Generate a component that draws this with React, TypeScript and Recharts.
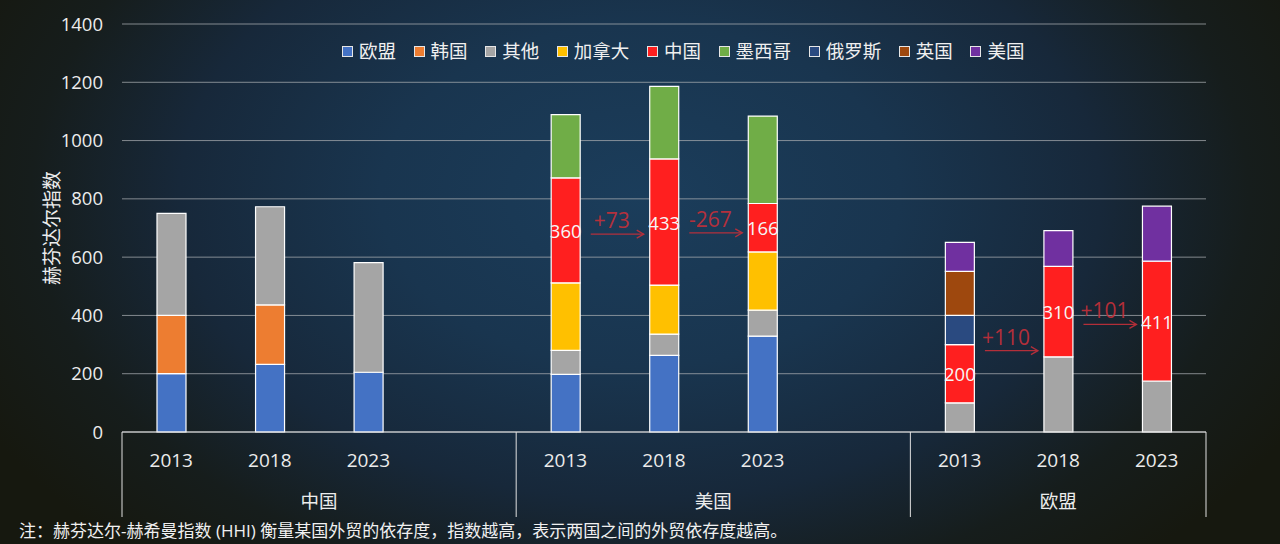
import React from 'react';
import { BarChart, Bar, XAxis, YAxis, CartesianGrid, Legend, LabelList } from 'recharts';

// ---------- data ----------
const slotIds = ['CN-2013', 'CN-2018', 'CN-2023', 'CN-gap', 'US-2013', 'US-2018', 'US-2023', 'US-gap', 'EU-2013', 'EU-2018', 'EU-2023'];
const slotYears = ['2013', '2018', '2023', '', '2013', '2018', '2023', '', '2013', '2018', '2023'];
const groupNames = ['中国', '美国', '欧盟'];
const groupSlotCounts = [4, 4, 3];

const seriesNames = ['欧盟', '韩国', '其他', '加拿大', '中国', '墨西哥', '俄罗斯', '英国', '美国'];
const seriesColors = ['#4472C4', '#ED7D31', '#A5A5A5', '#FFC000', '#FF1F1F', '#70AD47', '#2A4A80', '#9E480E', '#7030A0'];

const vEU = [200, 232, 205, null, 198, 263, 329, null, null, null, null];
const vKR = [200, 204, null, null, null, null, null, null, null, null, null];
const vOther = [350, 337, 376, null, 82, 73, 89, null, 100, 258, 175];
const vCA = [null, null, null, null, 232, 168, 200, null, null, null, null];
const vCN = [null, null, null, null, 360, 433, 166, null, 200, 310, 411];
const vMX = [null, null, null, null, 217, 249, 300, null, null, null, null];
const vRU = [null, null, null, null, null, null, null, null, 100, null, null];
const vUK = [null, null, null, null, null, null, null, null, 151, null, null];
const vUS = [null, null, null, null, null, null, null, null, 100, 123, 189];

const seriesValues = [vEU, vKR, vOther, vCA, vCN, vMX, vRU, vUK, vUS];
const yTicks = [0, 200, 400, 600, 800, 1000, 1200, 1400];

const data = slotIds.map((id, i) => {
  const row: Record<string, any> = { id, year: slotYears[i] };
  seriesNames.forEach((n, s) => {
    row[n] = seriesValues[s][i];
  });
  return row;
});

// indices of slots that carry a 中国 segment (label lists may be compacted)
const cnSlots = vCN.map((v, i) => (v == null ? -1 : i)).filter((i) => i >= 0);

// ---------- layout ----------
const W = 1280;
const H = 544;
const MARGIN = { top: 24, right: 74, bottom: 22, left: 40 };
const Y_AXIS_W = 82;
const X_AXIS_H = 90;
const SLOT_W = (W - MARGIN.left - MARGIN.right - Y_AXIS_W) / slotIds.length;
const FONT = '"Open Sans", "Noto Sans CJK SC", sans-serif';
const TEXT = '#ececec';
const RED_NOTE = '#C4303A';

const groupStart = (g: number) => groupSlotCounts.slice(0, g).reduce((a, b) => a + b, 0);

const baseBelowCN = (i: number) => (vEU[i] ?? 0) + (vKR[i] ?? 0) + (vOther[i] ?? 0) + (vCA[i] ?? 0);

const XTick = (props: any) => {
  const { x, y } = props;
  const i: number = props.index ?? props.payload?.index ?? 0;
  const els: React.ReactNode[] = [];
  els.push(
    <text key="yr" x={x} y={y + 28} textAnchor="middle" dominantBaseline="central" fill={TEXT} fontSize={19} fontFamily={FONT}>
      {slotYears[i]}
    </text>
  );
  groupNames.forEach((g, gi) => {
    const start = groupStart(gi);
    const end = start + groupSlotCounts[gi] - 1;
    if (i === start) {
      els.push(<line key={'l' + gi} x1={x - SLOT_W / 2} x2={x - SLOT_W / 2} y1={y} y2={y + 85} stroke="#e0e0e0" strokeWidth={1} />);
      els.push(
        <text key={'g' + gi} x={x + ((groupSlotCounts[gi] - 1) * SLOT_W) / 2} y={y + 68} textAnchor="middle" dominantBaseline="central" fill={TEXT} fontSize={18.5} fontFamily={FONT}>
          {g}
        </text>
      );
    }
    if (i === end && gi === groupNames.length - 1) {
      els.push(<line key={'r' + gi} x1={x + SLOT_W / 2} x2={x + SLOT_W / 2} y1={y} y2={y + 85} stroke="#e0e0e0" strokeWidth={1} />);
    }
  });
  return <g>{els}</g>;
};

const ChinaLabel = (props: any) => {
  const { value } = props;
  if (value == null) return null;
  let di: number = props.index ?? 0;
  if (vCN[di] !== value) di = cnSlots[props.index] ?? di;
  const vb = props.viewBox ?? props;
  const x = vb.x;
  const width = vb.width;
  const y = Math.min(vb.y, vb.y + vb.height);
  const height = Math.abs(vb.height);
  const cx = x + width / 2;
  const cy = y + height / 2;
  let delta: React.ReactNode = null;
  const prev = di > 0 ? vCN[di - 1] : null;
  if (prev != null && height > 0) {
    const ppu = height / value;
    const yZero = y + height + baseBelowCN(di) * ppu;
    const prevCy = yZero - (baseBelowCN(di - 1) + prev / 2) * ppu;
    const mid = (prevCy + cy) / 2;
    const d = value - prev;
    const ay = mid + 8;
    const x1 = x - 59;
    const x2 = x - 6;
    delta = (
      <g opacity={0.9}>
        <text x={x - 38} y={mid - 6} textAnchor="middle" dominantBaseline="central" fill={RED_NOTE} fontSize={21} fontFamily={FONT}>
          {d > 0 ? `+${d}` : `${d}`}
        </text>
        <line x1={x1} y1={ay} x2={x2} y2={ay} stroke={RED_NOTE} strokeWidth={1.3} />
        <path d={`M${x2 - 7},${ay - 4} L${x2},${ay} L${x2 - 7},${ay + 4}`} fill="none" stroke={RED_NOTE} strokeWidth={1.3} />
      </g>
    );
  }
  return (
    <g>
      {delta}
      <text x={cx} y={cy} textAnchor="middle" dominantBaseline="central" fill="#f6f6f6" fontSize={18.5} fontFamily={FONT}>
        {value}
      </text>
    </g>
  );
};

const LegendContent = () => (
  <div style={{ display: 'flex', alignItems: 'center', whiteSpace: 'nowrap', fontFamily: FONT, fontSize: 18.5, lineHeight: '26px', color: '#f0f0f0' }}>
    {seriesNames.map((n, i) => (
      <div key={n} style={{ display: 'flex', alignItems: 'center', marginRight: 17.6 }}>
        <span style={{ display: 'inline-block', width: 11, height: 11, boxSizing: 'border-box', background: seriesColors[i], border: '1px solid #e6e6e6', marginRight: 6 }} />
        <span>{n}</span>
      </div>
    ))}
  </div>
);

const YLabel = (p: any) => {
  const vb = p.viewBox ?? { x: MARGIN.left, y: MARGIN.top, width: Y_AXIS_W, height: H - MARGIN.top - MARGIN.bottom - X_AXIS_H };
  const lx = vb.x + 12;
  const ly = vb.y + vb.height / 2;
  return (
    <text x={lx} y={ly} transform={`rotate(-90 ${lx} ${ly})`} textAnchor="middle" dominantBaseline="central" fill={TEXT} fontSize={19} fontFamily={FONT}>
      赫芬达尔指数
    </text>
  );
};

export default function App() {
  return (
    <div
      style={{
        position: 'absolute',
        left: 0,
        top: 0,
        width: W,
        height: H,
        overflow: 'hidden',
        fontFamily: FONT,
        background:
          'radial-gradient(ellipse 58% 90% at 50% 36%, #1b3d5b 0%, #19354f 35%, #17283a 62%, #161d1c 82%, #16180f 100%)',
      }}
    >
      <BarChart width={W} height={H} data={data} margin={MARGIN} barSize={29}>
        <CartesianGrid vertical={false} stroke="#a8acb0" strokeOpacity={0.75} />
        <XAxis
          dataKey="id"
          type="category"
          interval={0}
          height={X_AXIS_H}
          tickLine={false}
          tickSize={0}
          tickMargin={0}
          axisLine={{ stroke: '#e6e6e6', strokeWidth: 1.2 }}
          tick={(p: any) => <XTick {...p} />}
        />
        <YAxis
          width={Y_AXIS_W}
          domain={[0, 1400]}
          ticks={yTicks}
          interval={0}
          axisLine={false}
          tickLine={false}
          tickMargin={13}
          tick={{ fill: TEXT, fontSize: 18.5, fontFamily: FONT }}
          label={{ content: (p: any) => <YLabel {...p} /> }}
        />
        <Legend verticalAlign="middle" align="center" layout="horizontal" wrapperStyle={{ top: 38, left: 342, width: 'auto', height: 'auto' }} content={() => <LegendContent />} />
        {seriesNames.map((n, s) => (
          <Bar key={n} dataKey={n} stackId="a" fill={seriesColors[s]} stroke="#ffffff" strokeWidth={1.2} isAnimationActive={false}>
            {n === '中国' ? <LabelList dataKey="中国" content={(p: any) => <ChinaLabel {...p} />} /> : null}
          </Bar>
        ))}
      </BarChart>
      <div style={{ position: 'absolute', left: 19, top: 521, fontSize: 17, lineHeight: '20px', color: '#f0f0f0', whiteSpace: 'nowrap', fontFamily: FONT }}>
        注：赫芬达尔-赫希曼指数 (HHI) 衡量某国外贸的依存度，指数越高，表示两国之间的外贸依存度越高。
      </div>
    </div>
  );
}
